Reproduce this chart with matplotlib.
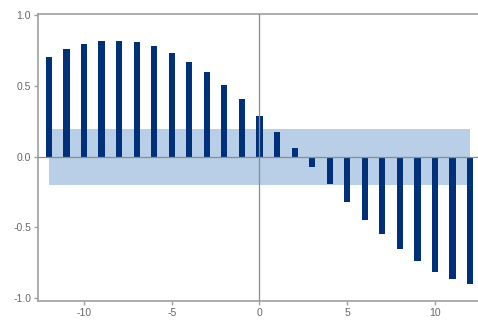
import numpy as np
import matplotlib.pyplot as plt

plt.rcParams['font.family'] = ['Liberation Sans', 'DejaVu Sans']

# cross-correlation by lag
lags = np.arange(-12, 13)
ccf = [0.706, 0.76, 0.80, 0.82, 0.823, 0.814, 0.786, 0.737, 0.673, 0.60,
       0.506, 0.41, 0.29, 0.174, 0.059, -0.07, -0.195, -0.32, -0.447,
       -0.548, -0.654, -0.734, -0.814, -0.861, -0.90]
conf_bound = 0.2

fig = plt.figure(figsize=(4.78, 3.2), dpi=100)
ax = fig.add_axes([0.0795, 0.0594, 0.9205, 0.8966])

ax.fill_between([lags[0], lags[-1]], -conf_bound, conf_bound,
                color='#b8cfe7', lw=0, zorder=1)
ax.bar(lags, ccf, width=0.35, color='#00307a', zorder=2)
ax.axhline(0, color='#8c8c8c', lw=0.9, zorder=3)
ax.axvline(0, color='#8c8c8c', lw=0.9, zorder=3)

ax.set_xlim(-12.62, 12.45)
ax.set_ylim(-1.02, 1.01)
ax.set_xticks([-10, -5, 0, 5, 10])
ax.set_yticks([-1.0, -0.5, 0.0, 0.5, 1.0])
ax.set_yticklabels(['-1.0', '-0.5', '0.0', '0.5', '1.0'])
ax.set_xticklabels(['-10', '-5', '0', '5', '10'])

ax.spines['right'].set_visible(False)
for side in ['left', 'bottom', 'top']:
    ax.spines[side].set_color('#a0a0a0')
    ax.spines[side].set_linewidth(1.2)
ax.tick_params(colors='#a0a0a0', labelcolor='#666666', labelsize=7.5,
               length=3, width=1, pad=2)

fig.savefig('out.png', dpi=100)
